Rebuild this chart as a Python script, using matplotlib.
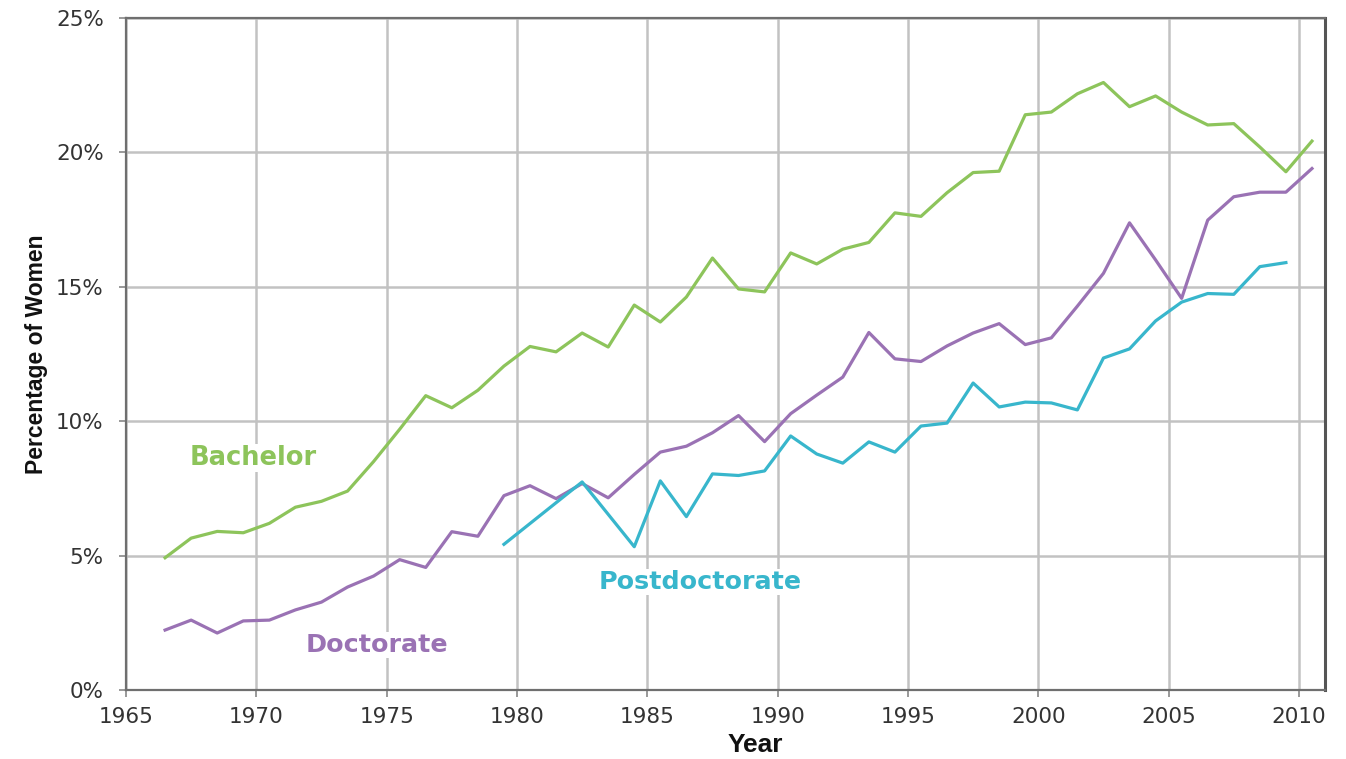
import numpy as np
import matplotlib
matplotlib.use("Agg")
import matplotlib.pyplot as plt
from matplotlib.ticker import MultipleLocator, FuncFormatter

# values (percent of women)
years = list(range(1966, 2011))
bachelor = [4.92, 5.65, 5.9, 5.85, 6.2, 6.8, 7.02, 7.4, 8.5, 9.7,
            10.95, 10.5, 11.15, 12.05, 12.78, 12.58, 13.28, 12.76, 14.32, 13.69,
            14.62, 16.07, 14.92, 14.81, 16.26, 15.85, 16.4, 16.65, 17.75, 17.62,
            18.5, 19.25, 19.3, 21.4, 21.5, 22.18, 22.6, 21.7, 22.1, 21.5,
            21.02, 21.07, 20.2, 19.28, 20.42]
doctorate = [2.23, 2.6, 2.12, 2.57, 2.6, 2.98, 3.27, 3.83, 4.24, 4.85,
             4.56, 5.89, 5.72, 7.23, 7.6, 7.12, 7.68, 7.15, 8.02, 8.85,
             9.07, 9.57, 10.21, 9.24, 10.28, 10.97, 11.64, 13.3, 12.32, 12.22,
             12.8, 13.28, 13.63, 12.85, 13.1, 14.28, 15.5, 17.38, 16.0, 14.57,
             17.48, 18.35, 18.52, 18.52, 19.4]

# postdoc series has gaps (1980, 1981, 1983)
post_years = [1979, 1982] + list(range(1984, 2010))
postdoc = [5.42, 7.74, 5.33, 7.78, 6.45, 8.04, 7.98, 8.15, 9.45, 8.78,
           8.44, 9.23, 8.85, 9.82, 9.93, 11.42, 10.53, 10.71, 10.68, 10.42,
           12.35, 12.69, 13.73, 14.43, 14.75, 14.72, 15.75, 15.9]

green = "#8dc45b"
purple = "#9a72b4"
cyan = "#38b6cc"

fig = plt.figure(figsize=(13.46, 7.59), dpi=100)
ax = fig.add_axes([0.0936, 0.0909, 0.8908, 0.8854])

# points sit in the middle of each year
ax.plot(np.array(years) + 0.5, bachelor, color=green, lw=2.3, zorder=3)
ax.plot(np.array(years) + 0.5, doctorate, color=purple, lw=2.3, zorder=3)
ax.plot(np.array(post_years) + 0.5, postdoc, color=cyan, lw=2.3, zorder=3)

ax.set_xlim(1965, 2011)
ax.set_ylim(0, 25)
ax.xaxis.set_major_locator(MultipleLocator(5))
ax.yaxis.set_major_locator(MultipleLocator(5))
ax.yaxis.set_major_formatter(FuncFormatter(lambda v, p: "%d%%" % v))

ax.grid(True, color="#c2c2c2", lw=1.8, zorder=0)
ax.set_axisbelow(True)
for s in ax.spines.values():
    s.set_color("#6f6f6f")
    s.set_linewidth(1.6)
ax.spines["right"].set_linewidth(2.2)
ax.spines["right"].set_color("#555555")

ax.tick_params(axis="both", direction="out", length=5, width=1.4, color="#999999",
               labelsize=15.5, labelcolor="#333333")
ax.tick_params(axis="y", pad=11)
ax.tick_params(axis="x", pad=7)
for lab in ax.get_xticklabels() + ax.get_yticklabels():
    lab.set_family("DejaVu Sans")

# axis titles
fig.text(755 / 1346, 1 - 745 / 759, "Year", fontsize=19, fontweight="bold",
         family="Liberation Sans", color="#111111", ha="center", va="center")
ax.set_ylabel("Percentage of Women", fontsize=16.5, fontweight="bold",
              family="Liberation Sans", color="#111111", labelpad=6)

box = dict(facecolor="white", edgecolor="none", pad=1)
ax.text(1967.45, 8.63, "Bachelor", color=green, fontsize=18.5, fontweight="bold",
        family="DejaVu Sans", va="center", ha="left", bbox=box, zorder=2)
ax.text(1971.9, 1.67, "Doctorate", color=purple, fontsize=18.3, fontweight="bold",
        family="DejaVu Sans", va="center", ha="left", bbox=box, zorder=2)
ax.text(1983.15, 4.02, "Postdoctorate", color=cyan, fontsize=18.3, fontweight="bold",
        family="DejaVu Sans", va="center", ha="left", bbox=box, zorder=2)

fig.savefig("out.png", dpi=100)
